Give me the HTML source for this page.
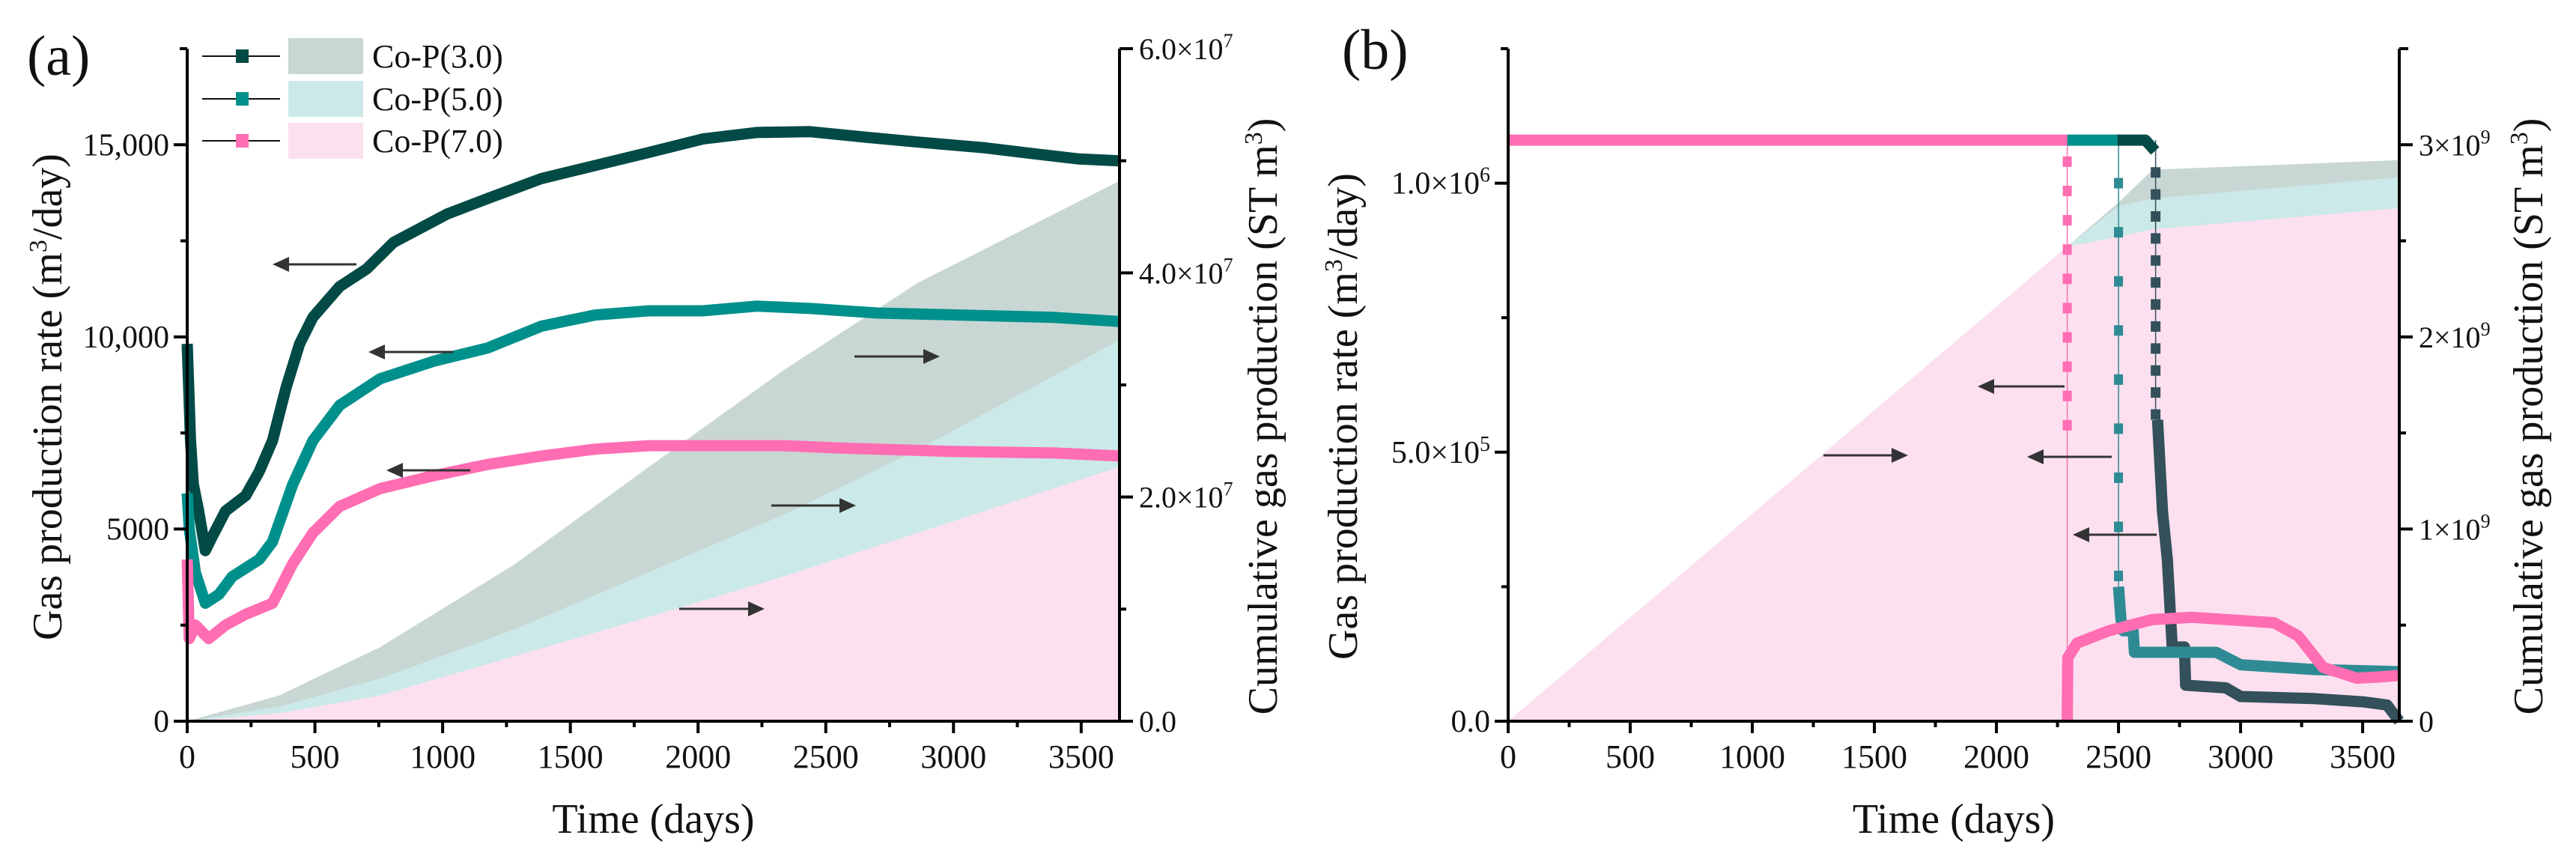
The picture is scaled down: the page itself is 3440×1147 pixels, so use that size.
<!DOCTYPE html>
<html><head><meta charset="utf-8"><style>
html,body{margin:0;padding:0;background:#fff;}
svg, svg text, svg tspan{font-family:"Liberation Serif","DejaVu Serif","Times New Roman",serif;}
svg text{fill:#111;}
</style></head><body>
<svg id="fig" xmlns="http://www.w3.org/2000/svg" width="3440" height="1142" viewBox="0 0 3440 1142">
<rect width="3440" height="1142" fill="#fff"/>
<g id="pa"></g>
<g id="pb"></g>
</svg>
<script>
// ---------- Panel (a) data ----------
const aDays3 = [0,13,24,45,71,97,150,229,282,334,387,440,492,597,703,808,1018,1176,1387,1597,1808,2018,2229,2439,2650,2860,3124,3334,3492,3650];
const aRate3 = [9820,7300,6160,5470,4440,4790,5470,5870,6500,7300,8680,9820,10510,11310,11770,12460,13200,13600,14120,14460,14800,15150,15320,15340,15200,15070,14920,14750,14630,14580];
const aDays5 = [0,8,32,71,124,176,282,334,413,492,597,755,966,1176,1387,1597,1808,2018,2229,2439,2703,3018,3387,3650];
const aRate5 = [5930,5010,3870,3070,3300,3760,4210,4670,6160,7300,8220,8910,9370,9710,10280,10570,10680,10680,10800,10740,10620,10570,10510,10400];
const aDays7 = [0,8,32,84,150,229,334,413,492,597,755,966,1176,1387,1597,1808,2018,2334,2597,2992,3387,3650];
const aRate7 = [4210,2150,2500,2150,2500,2780,3070,4100,4900,5590,6050,6390,6680,6900,7080,7170,7170,7170,7100,7020,6980,6900];
const aCumDays = [0,360,755,1282,1808,2334,2860,3650];
const aCum3 = [0,2.3e6,6.6e6,1.4e7,2.27e7,3.13e7,3.91e7,4.82e7];
const aCum5 = [0,1.3e6,3.8e6,8.2e6,1.33e7,1.84e7,2.42e7,3.4e7];
const aCum7 = [0,0.7e6,2.3e6,5.8e6,9.3e6,1.29e7,1.68e7,2.27e7];
const aXTicks = [0,500,1000,1500,2000,2500,3000,3500];
const aYTicks = [0,5000,10000,15000];
const aYTickLabels = ["0","5000","10,000","15,000"];
const aY2Ticks = [0,2e7,4e7,6e7];
const aY2Mant = ["0.0","2.0","4.0","6.0"];

// ---------- Panel (b) data ----------
const bDays7a = [0,2290];
const bRate7a = [1.08e6,1.08e6];
const bDays7b = [2290,2292,2330,2460,2640,2800,3137,3237,3338,3475,3560,3650];
const bRate7b = [0,1.18e5,1.45e5,1.68e5,1.89e5,1.93e5,1.83e5,1.58e5,1.0e5,8.0e4,8.2e4,8.5e4];
const bDays5a = [2290,2495];
const bRate5a = [1.08e6,1.08e6];
const bDays5b = [2500,2510,2520,2560,2565,2900,3000,3300,3650];
const bRate5b = [2.5e5,1.9e5,1.68e5,1.68e5,1.28e5,1.28e5,1.05e5,9.6e4,9.2e4];
const bDays3a = [2495,2610,2650];
const bRate3a = [1.08e6,1.08e6,1.06e6];
const bDays3b = [2660,2680,2700,2720,2770,2775,2940,3000,3300,3500,3600,3650];
const bRate3b = [5.6e5,3.9e5,3.0e5,1.38e5,1.38e5,6.7e4,6.2e4,4.6e4,4.2e4,3.6e4,3.0e4,0];
const bMk7Day = 2290, bMk5Day = 2500, bMk3Day = 2652;
const bMk7Range = [1.04e6,5.5e5];
const bMk5Range = [1.0e6,2.7e5];
const bMk3Range = [1.02e6,5.7e5];
const bCumDays = [0,2290,2500,2640,3650];
const bCum3 = [0,2.47e9,2.7e9,2.87e9,2.92e9];
const bCum5 = [0,2.47e9,2.68e9,2.72e9,2.83e9];
const bCum7 = [0,2.47e9,2.52e9,2.56e9,2.67e9];
const bXTicks = [0,500,1000,1500,2000,2500,3000,3500];
const bYTicks = [0,5e5,1e6];
const bYMant = ["0.0","5.0","1.0"];
const bYExp = ["","5","6"];
const bY2Ticks = [0,1e9,2e9,3e9];
const bY2Mant = ["0","1","2","3"];

const NS="http://www.w3.org/2000/svg";
const FONT='"Liberation Serif", "DejaVu Serif", serif';
function mk(parent,tag,attrs){const e=document.createElementNS(NS,tag);for(const k in attrs)e.setAttribute(k,attrs[k]);if(tag==='text')e.style.fontFamily=FONT;parent.appendChild(e);return e;}

function axes(g,o){
  const sx=d=>o.x0+(d/o.xmax)*(o.x1-o.x0);
  const sy=v=>o.y0-(v/o.ymax)*(o.y0-o.y1);
  const sy2=v=>o.y0-(v/o.y2max)*(o.y0-o.y1);
  return {sx,sy,sy2};
}
function pathFrom(xs,ys,sx,sy){return xs.map((d,i)=>(i?'L':'M')+sx(d).toFixed(1)+' '+sy(ys[i]).toFixed(1)).join(' ');}
function areaFrom(xs,ys,sx,sy,base){return pathFrom(xs,ys,sx,sy)+' L'+sx(xs[xs.length-1]).toFixed(1)+' '+base+' L'+sx(xs[0]).toFixed(1)+' '+base+' Z';}

function drawFrame(g,o,s,xt,yt,ytl,y2t,y2lab,minorY,minorY2){
  const ax=mk(g,'g',{});
  
  
  mk(ax,'line',{x1:o.x0,y1:o.y1,x2:o.x0,y2:o.y0+2,stroke:'#000','stroke-width':4});
  mk(ax,'line',{x1:o.x1,y1:o.y1,x2:o.x1,y2:o.y0+2,stroke:'#000','stroke-width':4});
  mk(ax,'line',{x1:o.x0-18,y1:o.y0,x2:o.x1+16,y2:o.y0,stroke:'#000','stroke-width':4});
  mk(ax,'line',{x1:o.x0-10,y1:o.y1,x2:o.x0,y2:o.y1,stroke:'#000','stroke-width':4});
  mk(ax,'line',{x1:o.x1,y1:o.y1,x2:o.x1+12,y2:o.y1,stroke:'#000','stroke-width':4});
  xt.forEach(d=>{
    const x=s.sx(d);
    const t=mk(ax,'line',{x1:x,y1:o.y0,x2:x,y2:o.y0+16,stroke:'#000','stroke-width':4});
    
    const l=mk(ax,'text',{x:x,y:o.y0+62,'font-size':44,'text-anchor':'middle'});l.textContent=d;
    
    const xm=s.sx(d+250);
    if(d+250<o.xmax) mk(ax,'line',{x1:xm,y1:o.y0,x2:xm,y2:o.y0+8,stroke:'#000','stroke-width':4});
  });
  yt.forEach((v,i)=>{
    const y=s.sy(v);
    mk(ax,'line',{x1:o.x0-18,y1:y,x2:o.x0,y2:y,stroke:'#000','stroke-width':4});
    const l=mk(ax,'text',{x:o.x0-24,y:y+14,'font-size':42,'text-anchor':'end'});
    if(typeof ytl[i]==='string'){l.textContent=ytl[i];}else{l.textContent=ytl[i][0]+'\u00d710';const ts=mk(l,'tspan',{dy:-16,'font-size':28});ts.textContent=ytl[i][1];}
    
  });
  minorY.forEach(v=>{const y=s.sy(v);mk(ax,'line',{x1:o.x0-9,y1:y,x2:o.x0,y2:y,stroke:'#000','stroke-width':4});});
  y2t.forEach((v,i)=>{
    const y=s.sy2(v);
    mk(ax,'line',{x1:o.x1,y1:y,x2:o.x1+18,y2:y,stroke:'#000','stroke-width':4});
    const l=mk(ax,'text',{x:o.x1+26,y:y+14,'font-size':40});
    l.textContent=y2lab[i][0];
    if(y2lab[i][1]){l.textContent=y2lab[i][0]+'\u00d710';const ts=mk(l,'tspan',{dy:-16,'font-size':26});ts.textContent=y2lab[i][1];}
    
  });
  minorY2.forEach(v=>{const y=s.sy2(v);mk(ax,'line',{x1:o.x1,y1:y,x2:o.x1+9,y2:y,stroke:'#000','stroke-width':4});});
  const xtl=mk(ax,'text',{x:(o.x0+o.x1)/2,y:1112,'font-size':56,'text-anchor':'middle'});xtl.textContent='Time (days)';
  
}
function ytitle(g,x,y,txt,name){
  const t=mk(g,'text',{x:0,y:0,'font-size':56,'text-anchor':'middle',transform:`translate(${x},${y}) rotate(-90)`});
  
  const parts=txt.split('^');t.textContent=parts[0];
  const s=mk(t,'tspan',{dy:-20,'font-size':34});s.textContent=parts[1][0];
  const r=mk(t,'tspan',{dy:20});r.textContent=parts[1].slice(1);
}
function arrow(g,x1,x2,y){
  const a=mk(g,'g',{});
  
  const dir=x2>x1?1:-1;
  mk(a,'line',{x1:x1,y1:y,x2:x2-dir*14,y2:y,stroke:'#333','stroke-width':3});
  mk(a,'polygon',{points:`${x2},${y} ${x2-dir*22},${y-10} ${x2-dir*22},${y+10}`,fill:'#333'});
}

// ---------- Panel A ----------
(function(){
  const g=document.getElementById('pa');
  const o={x0:250,x1:1495,y0:963,y1:65,xmax:3650,ymax:17500,y2max:6e7};
  const s=axes(g,o);
  const f3=mk(g,'path',{d:areaFrom(aCumDays,aCum3,s.sx,s.sy2,o.y0),fill:'#c9d7d4'});
  
  const f5=mk(g,'path',{d:areaFrom(aCumDays,aCum5,s.sx,s.sy2,o.y0),fill:'#cbe9e8'});
  
  const f7=mk(g,'path',{d:areaFrom(aCumDays,aCum7,s.sx,s.sy2,o.y0),fill:'#fde0ef'});
  
  const l3=mk(g,'path',{d:pathFrom(aDays3,aRate3,s.sx,s.sy),fill:'none',stroke:'#024a46','stroke-width':15,'stroke-linejoin':'round'});
  
  const l5=mk(g,'path',{d:pathFrom(aDays5,aRate5,s.sx,s.sy),fill:'none',stroke:'#00908b','stroke-width':15,'stroke-linejoin':'round'});
  
  const l7=mk(g,'path',{d:pathFrom(aDays7,aRate7,s.sx,s.sy),fill:'none',stroke:'#ff6db3','stroke-width':15,'stroke-linejoin':'round'});
  
  drawFrame(g,o,s,aXTicks,aYTicks,aYTickLabels,aY2Ticks,aY2Mant.map((m,i)=>i===0?[m,'']:[m,'7']),[2500,7500,12500],[1e7,3e7,5e7]);
  ytitle(g,82,530,'Gas production rate (m^3/day)','y-axis-title');
  ytitle(g,1705,556,'Cumulative gas production (ST m^3)','y2-axis-title');
  arrow(g,476,364,353);arrow(g,605,492,470);arrow(g,628,516,628);
  arrow(g,1141,1255,476);arrow(g,1030,1143,675);arrow(g,907,1021,813);
  const lab=mk(g,'text',{x:36,y:100,'font-size':76});lab.textContent='(a)';
  
  const lg=mk(g,'g',{});
  
  const cols=['#024a46','#00908b','#ff6db3'],fills=['#c9d7d4','#cbe9e8','#fde0ef'],names=['Co-P(3.0)','Co-P(5.0)','Co-P(7.0)'];
  [75,132,188].forEach((y,i)=>{
    const e=mk(lg,'g',{});
    
    mk(e,'line',{x1:270,y1:y,x2:374,y2:y,stroke:'#111','stroke-width':2});
    mk(e,'rect',{x:315,y:y-9,width:17,height:18,fill:cols[i]});
    mk(e,'rect',{x:385,y:y-24,width:100,height:48,fill:fills[i]});
    const t=mk(e,'text',{x:497,y:y+15,'font-size':44});t.textContent=names[i];
  });
})();

// ---------- Panel B ----------
(function(){
  const g=document.getElementById('pb');
  const o={x0:2014,x1:3204,y0:963,y1:65,xmax:3650,ymax:1.25e6,y2max:3.5e9};
  const s=axes(g,o);
  const f3=mk(g,'path',{d:areaFrom(bCumDays,bCum3,s.sx,s.sy2,o.y0),fill:'#c9d7d4'});
  
  const f5=mk(g,'path',{d:areaFrom(bCumDays,bCum5,s.sx,s.sy2,o.y0),fill:'#cbe9e8'});
  
  const f7=mk(g,'path',{d:areaFrom(bCumDays,bCum7,s.sx,s.sy2,o.y0),fill:'#fde0ef'});
  
  function markers(day,range,col,n,w,bottom){
    const mg=mk(g,'g',{});
    
    const x=s.sx(day);
    mk(mg,'line',{x1:x,y1:s.sy(1.08e6),x2:x,y2:s.sy(bottom),stroke:col,'stroke-width':1.5});
    for(let i=0;i<n;i++){const v=range[0]+(range[1]-range[0])*i/(n-1);const y=s.sy(v);mk(mg,'rect',{x:x-w/2,y:y-7,width:w,height:14,fill:col});}
  }
  markers(bMk7Day,bMk7Range,'#ff6db3',10,12,0);
  markers(bMk5Day,bMk5Range,'#2e8b94',9,12,2.5e5);
  markers(bMk3Day,bMk3Range,'#33505b',12,13,5.6e5);
  function line(xs,ys,col,name){
    const p=mk(g,'path',{d:pathFrom(xs,ys,s.sx,s.sy),fill:'none',stroke:col,'stroke-width':15,'stroke-linejoin':'round'});
    
  }
  line(bDays3a,bRate3a,'#024a46','rate-plateau-cop3');
  line(bDays3b,bRate3b,'#33505b','rate-line-cop3');
  line(bDays5a,bRate5a,'#00908b','rate-plateau-cop5');
  line(bDays5b,bRate5b,'#2e8b94','rate-line-cop5');
  line(bDays7a,bRate7a,'#ff6db3','rate-plateau-cop7');
  line(bDays7b,bRate7b,'#ff6db3','rate-line-cop7');
  drawFrame(g,o,s,bXTicks,bYTicks,bYMant.map((m,i)=>i===0?m:[m,bYExp[i]]),bY2Ticks,bY2Mant.map((m,i)=>i===0?[m,'']:[m,'9']),[2.5e5,7.5e5],[0.5e9,1.5e9,2.5e9]);
  ytitle(g,1812,556,'Gas production rate (m^3/day)','y-axis-title');
  ytitle(g,3395,556,'Cumulative gas production (ST m^3)','y2-axis-title');
  arrow(g,2757,2641,516);arrow(g,2435,2548,608);arrow(g,2820,2707,610);arrow(g,2880,2768,714);
  const lab=mk(g,'text',{x:1792,y:92,'font-size':76});lab.textContent='(b)';
  
})();
</script>
</body></html>
